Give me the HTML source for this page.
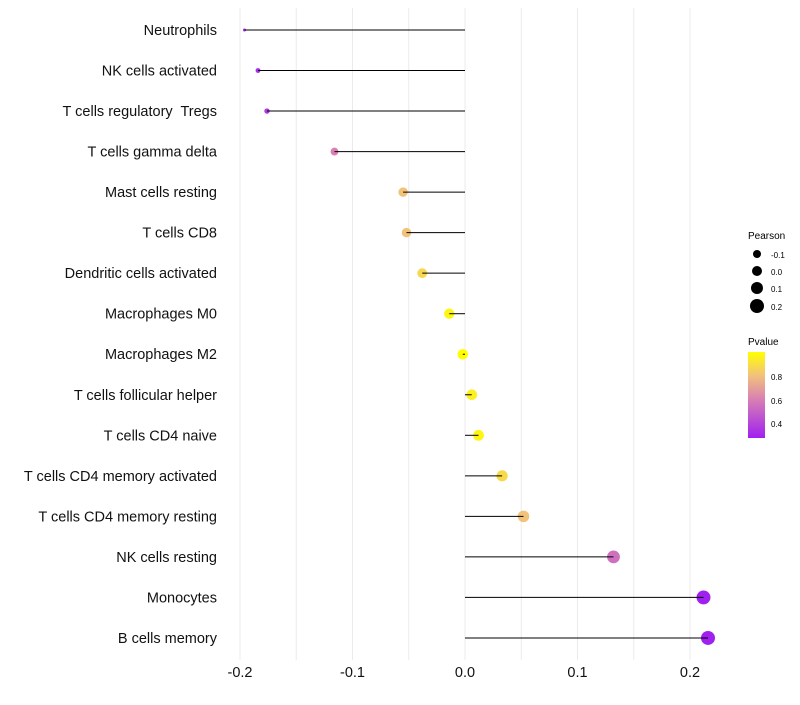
<!DOCTYPE html>
<html><head><meta charset="utf-8"><style>
body{margin:0;background:#fff;font-family:"Liberation Sans",sans-serif}
svg text{font-family:"Liberation Sans",sans-serif;white-space:pre}
</style></head><body>
<svg id="chart" width="800" height="700" xmlns="http://www.w3.org/2000/svg">
<defs><linearGradient id="pg" x1="0" y1="1" x2="0" y2="0">
<stop offset="0" stop-color="#A020F0"/><stop offset="0.45" stop-color="#D880B4"/><stop offset="0.73" stop-color="#F2C27A"/><stop offset="1" stop-color="#FFFF00"/></linearGradient></defs>
<g id="grid"></g><g id="marks"></g><g id="ylabels"></g><g id="xlabels"></g>
<g>
<text x="748" y="239" font-size="10">Pearson</text>
<circle cx="757" cy="254" r="4" fill="#000"/><text x="771" y="258" font-size="8">-0.1</text>
<circle cx="757" cy="271" r="5" fill="#000"/><text x="771" y="275" font-size="8">0.0</text>
<circle cx="757" cy="288" r="6" fill="#000"/><text x="771" y="292" font-size="8">0.1</text>
<circle cx="757" cy="306" r="7" fill="#000"/><text x="771" y="310" font-size="8">0.2</text>
</g>
<g>
<text x="748" y="345" font-size="10">Pvalue</text>
<rect x="748" y="352" width="17" height="86" fill="url(#pg)"/>
<text x="771" y="380" font-size="8">0.8</text>
<text x="771" y="404" font-size="8">0.6</text>
<text x="771" y="427" font-size="8">0.4</text>
</g>
</svg>
<script>
const categories=["Neutrophils","NK cells activated","T cells regulatory  Tregs","T cells gamma delta","Mast cells resting","T cells CD8","Dendritic cells activated","Macrophages M0","Macrophages M2","T cells follicular helper","T cells CD4 naive","T cells CD4 memory activated","T cells CD4 memory resting","NK cells resting","Monocytes","B cells memory"];
const pearson=[-0.196,-0.184,-0.176,-0.116,-0.055,-0.052,-0.038,-0.014,-0.002,0.006,0.012,0.033,0.052,0.132,0.212,0.216];
const pvalue=[0.33,0.34,0.38,0.6,0.8,0.8,0.87,0.97,1.0,0.95,0.97,0.88,0.8,0.55,0.3,0.3];
const xTicks=[-0.2,-0.1,0,0.1,0.2];
const xTickLabels=["-0.2","-0.1","0.0","0.1","0.2"];
const NS="http://www.w3.org/2000/svg";
const xs=v=>465+v*1125;
const ys=i=>30+i*40.53;
function col(p){const st=[[0.3,[160,32,240]],[0.6,[216,128,180]],[0.8,[242,194,122]],[1.0,[255,255,0]]];
p=Math.max(0.3,Math.min(1,p));for(let k=0;k<st.length-1;k++){const a=st[k],b=st[k+1];if(p<=b[0]){const t=(p-a[0])/(b[0]-a[0]);return "rgb("+a[1].map((c,j)=>Math.round(c+(b[1][j]-c)*t)).join(",")+")";}}return "rgb(255,255,0)";}
function mk(t,at,par){const e=document.createElementNS(NS,t);for(const k in at)e.setAttribute(k,at[k]);document.getElementById(par).appendChild(e);return e;}
for(let g=-0.2;g<=0.2001;g+=0.05){const l=mk("line",{x1:xs(g),x2:xs(g),y1:8,y2:660,stroke:"#ebebeb","stroke-width":1},"grid");

}
const pmin=Math.min(...pearson),pmax=Math.max(...pearson);
categories.forEach((c,i)=>{const y=ys(i);
const d=3+11*Math.sqrt((pearson[i]-pmin)/(pmax-pmin));
const pt=mk("circle",{cx:xs(pearson[i]),cy:y,r:d/2,fill:col(pvalue[i])},"marks");


const ln=mk("line",{x1:xs(0),x2:xs(pearson[i]),y1:y,y2:y,stroke:"#000","stroke-width":1},"marks");


const t=mk("text",{x:217,y:y+5,"text-anchor":"end","font-size":14.5,fill:"#111"},"ylabels");t.textContent=c;

});
xTicks.forEach((v,i)=>{const t=mk("text",{x:xs(v),y:677,"text-anchor":"middle","font-size":14.5,fill:"#111"},"xlabels");t.textContent=xTickLabels[i];

});
</script>
</body></html>
